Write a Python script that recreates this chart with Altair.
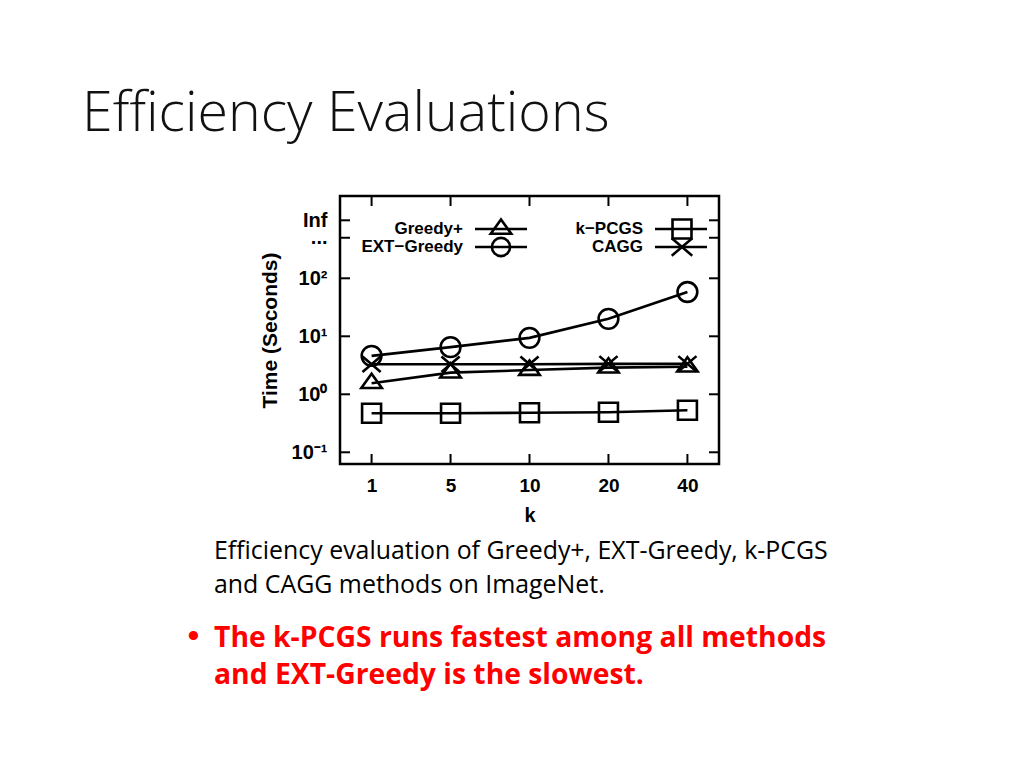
import altair as alt
import pandas as pd

# ---------------- data ----------------
k_values = ["1", "5", "10", "20", "40"]
series_names = ["Greedy+", "EXT-Greedy", "k-PCGS", "CAGG"]
greedy_plus = [1.55, 2.36, 2.62, 2.88, 2.99]
ext_greedy = [4.6, 6.5, 9.4, 20.0, 58.0]
k_pcgs = [0.47, 0.47, 0.48, 0.49, 0.53]
cagg = [3.3, 3.3, 3.3, 3.35, 3.35]

legend_labels = ["Greedy+", "EXT\u2212Greedy", "k\u2212PCGS", "CAGG"]
y_tick_values = [0.1, 1, 10, 100, 500, 1000]
y_tick_labels = ["10\u207b\u00b9", "10\u2070", "10\u00b9", "10\u00b2", "...", "Inf"]

title_text = "Efficiency Evaluations"
caption_lines = [
    "Efficiency evaluation of Greedy+, EXT-Greedy, k-PCGS",
    "and CAGG methods on ImageNet.",
]
bullet_lines = [
    "The k-PCGS runs fastest among all methods",
    "and EXT-Greedy is the slowest.",
]

# ---------------- tables ----------------
values_by_series = [greedy_plus, ext_greedy, k_pcgs, cagg]
rows = []
for name, vals in zip(series_names, values_by_series):
    for k, v in zip(k_values, vals):
        rows.append({"k": k, "time": v, "series": name})
df = pd.DataFrame(rows)
df_yt = pd.DataFrame({"time": y_tick_values, "label": y_tick_labels})
df_xt = pd.DataFrame({"k": k_values})
one = pd.DataFrame({"dummy": [0]})

# ---------------- styles ----------------
W, H = 379, 268
AXFONT = "Liberation Sans"
LW = 2.6
triangle = "M-1,0.47L1,0.47L0,-0.93Z"
xshape = "M-1,-0.85L1,0.85M-1,0.85L1,-0.85"
shape_range = [triangle, "circle", "square", xshape]
size_range = [420, 330, 360, 420]

label_expr = (
    "datum.value >= 900 ? 'Inf' : datum.value >= 400 ? '...' : "
    "datum.value >= 90 ? '10\u00b2' : datum.value >= 9 ? '10\u00b9' : "
    "datum.value >= 0.9 ? '10\u2070' : '10\u207b\u00b9'"
)

x_scale = alt.Scale(type="point", domain=k_values, padding=0.4)
y_scale = alt.Scale(type="log", domain=[10 ** -1.202, 10 ** 3.419])

x_axis = alt.Axis(
    title="k", labelAngle=0, labelFont=AXFONT, labelFontWeight="bold",
    labelFontSize=19, labelPadding=12, titleFont=AXFONT, titleFontWeight="bold",
    titleFontSize=20, titlePadding=10, labelColor="black", titleColor="black",
)
y_axis = alt.Axis(
    title="Time (Seconds)", values=y_tick_values, labelExpr=label_expr,
    labelOverlap=False, labelFlush=False, labelFont=AXFONT, labelFontWeight="bold",
    labelFontSize=20, labelPadding=13, titleFont=AXFONT, titleFontWeight="bold",
    titleFontSize=21, titlePadding=11, labelColor="black", titleColor="black",
)

x_enc = alt.X("k:O", sort=k_values, scale=x_scale, axis=x_axis)
y_enc = alt.Y("time:Q", scale=y_scale, axis=y_axis)

lines = alt.Chart(df).mark_line(color="black", strokeWidth=LW).encode(
    x=x_enc, y=y_enc, detail="series:N"
)
points = alt.Chart(df).mark_point(
    filled=False, color="black", strokeWidth=LW, opacity=1
).encode(
    x=x_enc, y=y_enc,
    shape=alt.Shape("series:N", scale=alt.Scale(domain=series_names, range=shape_range), legend=None),
    size=alt.Size("series:N", scale=alt.Scale(domain=series_names, range=size_range), legend=None),
)

# inward ticks on all four sides
tick_len = 10
yt_left = alt.Chart(df_yt).mark_rule(color="black", strokeWidth=2).encode(
    y=y_enc, x=alt.value(0), x2=alt.value(tick_len))
yt_right = alt.Chart(df_yt).mark_rule(color="black", strokeWidth=2).encode(
    y=y_enc, x=alt.value(W - tick_len), x2=alt.value(W))
xt_bottom = alt.Chart(df_xt).mark_rule(color="black", strokeWidth=2).encode(
    x=x_enc, y=alt.value(H - tick_len), y2=alt.value(H))
xt_top = alt.Chart(df_xt).mark_rule(color="black", strokeWidth=2).encode(
    x=x_enc, y=alt.value(0), y2=alt.value(tick_len))

# manual legend (label left of line+symbol), two columns
legend_layout = [
    (123, 33, 135, 187, 161),
    (123, 51, 135, 187, 161),
    (303, 33, 315, 367, 342),
    (303, 51, 315, 367, 342),
]
legend_layers = []
for lab, shp, sz, (tx, ty, lx1, lx2, sx) in zip(legend_labels, shape_range, size_range, legend_layout):
    legend_layers.append(
        alt.Chart(one).mark_text(
            align="right", baseline="middle", font=AXFONT, fontWeight="bold",
            fontSize=17, color="black"
        ).encode(x=alt.value(tx), y=alt.value(ty), text=alt.value(lab))
    )
    legend_layers.append(
        alt.Chart(one).mark_rule(color="black", strokeWidth=LW).encode(
            x=alt.value(lx1), x2=alt.value(lx2), y=alt.value(ty))
    )
    legend_layers.append(
        alt.Chart(one).mark_point(filled=False, color="black", strokeWidth=LW, opacity=1).encode(
            x=alt.value(sx), y=alt.value(ty), shape=alt.value(shp), size=alt.value(sz))
    )

# slide texts (positions relative to plot origin)
SLIDEFONT = "Open Sans"
text_layers = [
    alt.Chart(one).mark_text(
        align="left", baseline="alphabetic", font=SLIDEFONT, fontWeight=300,
        fontSize=55.5, color="#111111"
    ).encode(x=alt.value(-258), y=alt.value(-65), text=alt.value(title_text)),
    alt.Chart(one).mark_text(
        align="left", baseline="alphabetic", font=SLIDEFONT, fontSize=24.9, color="black"
    ).encode(x=alt.value(-126), y=alt.value(363.3), text=alt.value(caption_lines[0])),
    alt.Chart(one).mark_text(
        align="left", baseline="alphabetic", font=SLIDEFONT, fontSize=24.9, color="black"
    ).encode(x=alt.value(-126), y=alt.value(397.3), text=alt.value(caption_lines[1])),
    alt.Chart(one).mark_text(
        align="center", baseline="middle", font=AXFONT, fontSize=34, color="#ff0000"
    ).encode(x=alt.value(-146.5), y=alt.value(441), text=alt.value("\u2022")),
    alt.Chart(one).mark_text(
        align="left", baseline="alphabetic", font=SLIDEFONT, fontWeight="bold",
        fontSize=28.3, color="#ff0000"
    ).encode(x=alt.value(-126), y=alt.value(450.7), text=alt.value(bullet_lines[0])),
    alt.Chart(one).mark_text(
        align="left", baseline="alphabetic", font=SLIDEFONT, fontWeight="bold",
        fontSize=28.3, color="#ff0000"
    ).encode(x=alt.value(-126), y=alt.value(488), text=alt.value(bullet_lines[1])),
]

chart = alt.layer(
    lines, points, yt_left, yt_right, xt_bottom, xt_top, *legend_layers, *text_layers
).properties(
    width=W, height=H,
    autosize=alt.AutoSizeParams(type="none"),
    padding={"left": 332, "top": 188, "right": 290, "bottom": 290},
    background="white",
).configure_view(
    stroke="black", strokeWidth=2.5
).configure_axis(
    grid=False, domain=False, ticks=False
)

chart.save("out.html", embed_options={"renderer": "svg", "actions": False})
